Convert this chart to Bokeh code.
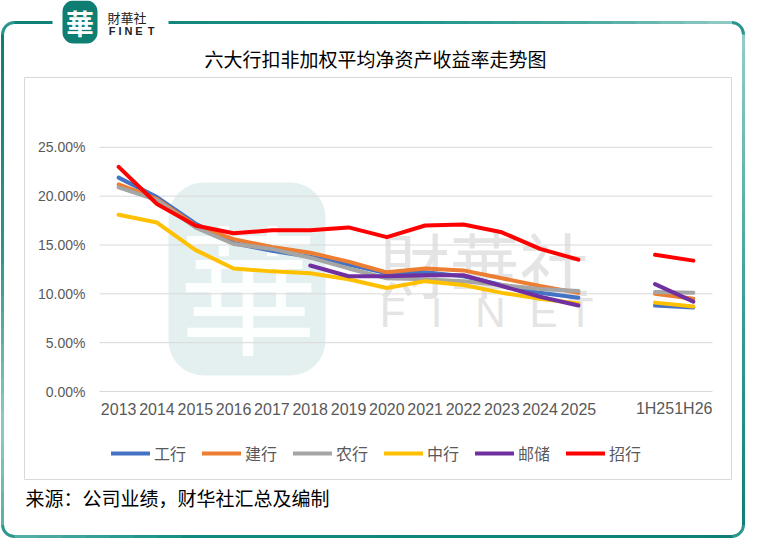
from bokeh.plotting import figure
from bokeh.models import (Range1d, Legend, LegendItem, Label, BoxAnnotation, ColumnDataSource)
from bokeh.core.properties import value
from bokeh.embed import file_html
from bokeh.resources import INLINE

nan = float("nan")

# ---------------- data (ROE, %) ----------------
categories = ["2013", "2014", "2015", "2016", "2017", "2018", "2019", "2020",
              "2021", "2022", "2023", "2024", "2025", " ", "1H25", "1H26"]
icbc = [21.9, 19.9, 17.2, 15.2, 14.4, 13.8, 13.0, 12.1, 12.2, 11.8, 10.9, 10.1, 9.6, nan, 8.8, 8.6]
ccb  = [21.2, 19.7, 17.0, 15.6, 14.8, 14.2, 13.3, 12.2, 12.6, 12.4, 11.6, 10.8, 10.1, nan, 10.0, 9.5]
abc  = [20.9, 19.6, 16.8, 15.1, 14.6, 13.7, 12.6, 11.6, 11.5, 11.3, 10.9, 10.5, 10.3, nan, 10.2, 10.1]
boc  = [18.1, 17.3, 14.5, 12.6, 12.3, 12.1, 11.5, 10.6, 11.3, 10.9, 10.1, 9.5, 9.0, nan, 9.1, 8.7]
psbc = [nan, nan, nan, nan, nan, 12.9, 11.8, 11.8, 11.9, 11.9, 10.8, 9.7, 8.8, nan, 11.0, 9.2]
cmb  = [23.0, 19.2, 17.0, 16.2, 16.5, 16.5, 16.8, 15.8, 17.0, 17.1, 16.3, 14.6, 13.5, nan, 14.0, 13.4]
series_names = ["工行", "建行", "农行", "中行", "邮储", "招行"]
series_values = [icbc, ccb, abc, boc, psbc, cmb]
y_ticks = [0.0, 0.05, 0.10, 0.15, 0.20, 0.25]
y_max = 0.30

title_text = "六大行扣非加权平均净资产收益率走势图"
source_text = "来源：公司业绩，财华社汇总及编制"

# ---------------- layout / styles ----------------
colors = ["#4472C4", "#ED7D31", "#A5A5A5", "#FFC000", "#7030A0", "#FF0000"]
W, H = 745, 542
PLOT_L, PLOT_R, PLOT_T, PLOT_B = 99, 712, 98, 391     # plot area in canvas px
CJK = "Noto Sans CJK SC"
LAT = "Liberation Sans"
AXIS_GREY = "#595959"

N = len(categories)
x_pos = list(range(N))
cat_w = (PLOT_R - PLOT_L) / N
px_per_unit = (PLOT_B - PLOT_T) / y_max
x_range = Range1d(-0.5 - PLOT_L / cat_w, N - 0.5 + (W - PLOT_R) / cat_w)
y_range = Range1d(-(H - PLOT_B) / px_per_unit, PLOT_B / px_per_unit)


def sx(x):          # canvas px (from left) -> screen units of the full-canvas frame
    return x


def sy(y):          # canvas px (from top) -> screen units (from bottom)
    return H - y


def box(l, r, t, b, **kw):
    return BoxAnnotation(left=sx(l), right=sx(r), top=sy(t), bottom=sy(b),
                         left_units="screen", right_units="screen",
                         top_units="screen", bottom_units="screen", **kw)


def label(x, y, text, **kw):
    return Label(x=sx(x), y=sy(y), x_units="screen", y_units="screen", text=text, **kw)


def hex2rgb(h):
    return [int(h[i:i + 2], 16) for i in (1, 3, 5)]


def grad(stops, t):
    for (t0, c0), (t1, c1) in zip(stops[:-1], stops[1:]):
        if t0 <= t <= t1:
            f = 0 if t1 == t0 else (t - t0) / (t1 - t0)
            a, b = hex2rgb(c0), hex2rgb(c1)
            return "#" + "".join(f"{round(a[k] + (b[k] - a[k]) * f):02x}" for k in range(3))
    return stops[-1][1]


p = figure(width=W, height=H, x_range=x_range, y_range=y_range,
           x_axis_type=None, y_axis_type=None,
           output_backend="svg", toolbar_location=None,
           min_border=0, min_border_left=0, min_border_right=0,
           min_border_top=0, min_border_bottom=0)
p.background_fill_color = "white"
p.border_fill_color = "white"
p.outline_line_color = None

# ---------------- watermark (underlay) ----------------
p.add_layout(box(168, 325, 182, 375, fill_color="#E3F0EF", fill_alpha=1,
                 line_color=None, border_radius=35, level="underlay"))
p.add_layout(label(248, 282, "華", text_font=CJK, text_font_size="140px",
                   text_color="white", text_alpha=0.9, text_align="center",
                   text_baseline="middle", level="underlay"))
p.add_layout(label(484, 262, "財華社", text_font=CJK, text_font_size="70px",
                   text_color="#E4E4E4", text_align="center", text_baseline="middle",
                   level="underlay"))
for ch, cx in zip("FINET", [392, 436, 490, 543, 580]):
    p.add_layout(label(cx, 312, ch, text_font=LAT, text_font_size="42px",
                       text_color="#E4E4E4", text_align="center", text_baseline="middle",
                       level="underlay"))

# ---------------- grid & tick labels (through the data scales) ----------------
p.segment(x0=[-0.5] * len(y_ticks), x1=[N - 0.5] * len(y_ticks), y0=y_ticks, y1=y_ticks,
          line_color="#D9D9D9", line_width=1)
p.text(x=[-0.5] * len(y_ticks), y=y_ticks, text=[f"{t:.2%}" for t in y_ticks],
       x_offset=-14, text_align="right", text_baseline="middle",
       text_font=value(LAT), text_font_size=value("14px"), text_color=AXIS_GREY)
p.text(x=x_pos, y=[0.0] * N, text=categories, y_offset=17,
       text_align="center", text_baseline="middle",
       text_font=value(LAT), text_font_size=value("16px"), text_color=AXIS_GREY)

# ---------------- series ----------------
items = []
for name, vals, col in zip(series_names, series_values, colors):
    src = ColumnDataSource(dict(x=x_pos, y=[v / 100 for v in vals]))
    r = p.line("x", "y", source=src, line_color=col, line_width=4,
               line_cap="round", line_join="round")
    items.append(LegendItem(label=name, renderers=[r]))

legend = Legend(items=items, orientation="horizontal", location=(111, 77),
                glyph_width=39, glyph_height=20, label_height=20, label_standoff=4,
                spacing=16, padding=0, margin=0, border_line_color=None,
                background_fill_alpha=0, label_text_font=CJK,
                label_text_font_size="16px", label_text_color=AXIS_GREY)
p.add_layout(legend, "center")

# ---------------- frame decorations ----------------
p.add_layout(box(24, 731, 77, 479, fill_alpha=0, line_color="#D9D9D9",
                 line_alpha=1, line_width=1))

# outer rounded border with a stepped colour gradient
OL, OR, OT, OB, RAD, LW = 2, 743, 22, 536, 12, 3
p.add_layout(box(OL, OR, OT, OB, fill_alpha=0, line_color="#2A968D", line_alpha=1,
                 line_width=LW, border_radius=RAD))
top_stops = [(0, "#0E7F74"), (0.55, "#1B948A"), (0.8, "#4AA9A1"), (1, "#93CBC6")]
right_stops = [(0, "#95CDC8"), (0.55, "#3A9F97"), (1, "#0E7F74")]
bottom_stops = [(0, "#58B0A9"), (0.25, "#108A80"), (1, "#0E7F74")]
left_stops = [(0, "#0E7F74"), (0.45, "#2C968E"), (0.8, "#90CAC5"), (1, "#58B0A9")]
NSEG = 30
for k in range(NSEG):
    t = (k + 0.5) / NSEG
    xa = OL + RAD + (OR - OL - 2 * RAD) * k / NSEG
    xb = OL + RAD + (OR - OL - 2 * RAD) * (k + 1) / NSEG + 0.6
    ya = OT + RAD + (OB - OT - 2 * RAD) * k / NSEG
    yb = OT + RAD + (OB - OT - 2 * RAD) * (k + 1) / NSEG + 0.6
    p.add_layout(box(xa, xb, OT - LW / 2, OT + LW / 2, fill_color=grad(top_stops, t),
                     fill_alpha=1, line_color=None))
    p.add_layout(box(xa, xb, OB - LW / 2, OB + LW / 2, fill_color=grad(bottom_stops, t),
                     fill_alpha=1, line_color=None))
    p.add_layout(box(OL - LW / 2, OL + LW / 2, ya, yb, fill_color=grad(left_stops, t),
                     fill_alpha=1, line_color=None))
    p.add_layout(box(OR - LW / 2, OR + LW / 2, ya, yb, fill_color=grad(right_stops, t),
                     fill_alpha=1, line_color=None))

# gap in top line for the logo
p.add_layout(box(52, 168, 16, 28, fill_color="white", fill_alpha=1, line_color=None))
# logo
p.add_layout(box(62, 97, 0, 43, fill_color="#0E7E72", fill_alpha=1,
                 line_color=None, border_radius=11))
p.add_layout(label(79.5, 22, "華", text_font=CJK, text_font_size="28px",
                   text_font_style="bold", text_color="white", text_align="center",
                   text_baseline="middle"))
p.add_layout(label(107, 16.5, "財華社", text_font=CJK, text_font_size="13px",
                   text_color="#222222", text_align="left", text_baseline="middle"))
for ch, cx in zip("FINET", [111.5, 119.5, 128, 138.5, 150.5]):
    p.add_layout(label(cx, 30, ch, text_font=LAT, text_font_size="11px",
                       text_font_style="bold", text_color="#222222",
                       text_align="center", text_baseline="middle"))

# title and source
p.add_layout(label(375, 58, title_text, text_font=CJK, text_font_size="19px",
                   text_color="#000000", text_align="center", text_baseline="middle"))
p.add_layout(label(25, 497, source_text, text_font=CJK, text_font_size="19px",
                   text_color="#000000", text_align="left", text_baseline="middle"))

open("out.html", "w").write(file_html(p, INLINE))
